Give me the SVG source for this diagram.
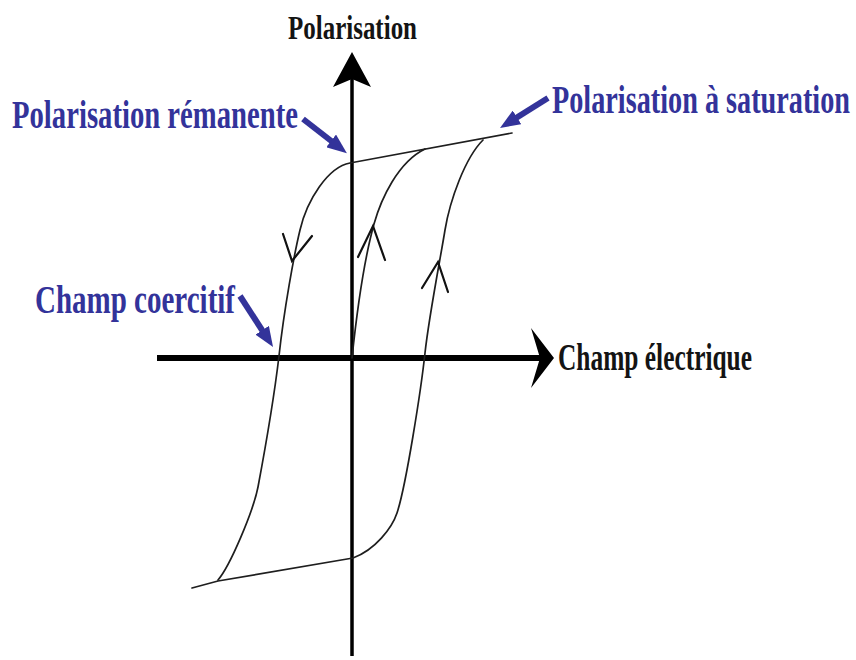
<svg xmlns="http://www.w3.org/2000/svg" width="856" height="660" viewBox="0 0 856 660">
<style>
.lbl{font-family:"Liberation Serif","Times New Roman",serif;font-weight:bold;}
.blue{fill:#33339a;}
.dark{fill:#141414;}
.curve{fill:none;stroke:#1e1e1e;stroke-width:1.7;stroke-linejoin:round;stroke-linecap:round;}
.chev{fill:none;stroke:#111;stroke-width:2.2;stroke-linecap:round;stroke-linejoin:miter;}
.ptr{fill:none;stroke:#33339a;stroke-width:6;}
</style>
<defs>
<marker id="bhead" viewBox="0 0 20 16" refX="10" refY="8" markerWidth="20" markerHeight="16" markerUnits="userSpaceOnUse" orient="auto">
<path d="M0,0 L20,8 L0,16 Z" fill="#33339a"/>
</marker>
</defs>
<rect width="856" height="660" fill="#ffffff"/>

<g id="axes">
<line x1="352" y1="78" x2="352" y2="656" stroke="#000" stroke-width="3.5"/>
<path d="M352,52 L371,87 L352,79 L333,87 Z" fill="#000"/>
<line x1="157" y1="358" x2="541" y2="358" stroke="#000" stroke-width="6"/>
<path d="M554,358 L531,328 L540,358 L531,388 Z" fill="#000"/>
</g>

<g id="hysteresis">
<path class="curve" d="M512,133 L350,163 C328,167 307,200 300,230 C294,255 284,310 279,356 C274,398 264,455 258,487 C253,512 230,566 218,580"/>
<path class="curve" d="M192,588 L218,581 L353,558 C375,550 392,528 397,513 C406,486 421,390 425,353 C429,316 441,255 445,230 C450,200 465,158 483,140"/>
<path class="curve" d="M352,358 C356,320 364,260 374,224 C381,199 398,162 425,149"/>
<path class="chev" d="M283,234 L292,261 L312,236"/>
<path class="chev" d="M358,257 L373,226 L385,260"/>
<path class="chev" d="M422,288 L438,262 L448,292"/>
</g>

<g id="connectors">
<line class="ptr" x1="303" y1="119" x2="339" y2="147" marker-end="url(#bhead)"/>
<line class="ptr" x1="548" y1="98" x2="508.5" y2="122.7" marker-end="url(#bhead)"/>
<line class="ptr" x1="240" y1="296" x2="267.6" y2="338.6" marker-end="url(#bhead)"/>
</g>

<g id="label-polarisation"><text class="lbl dark" x="288" y="39" font-size="33" textLength="129" lengthAdjust="spacingAndGlyphs">Polarisation</text></g>
<g id="label-remanente"><text class="lbl blue" x="12" y="128" font-size="40" textLength="286" lengthAdjust="spacingAndGlyphs">Polarisation rémanente</text></g>
<g id="label-saturation"><text class="lbl blue" transform="translate(552,113) scale(1,1.43)" x="0" y="0" font-size="28" textLength="298" lengthAdjust="spacingAndGlyphs">Polarisation à saturation</text></g>
<g id="label-coercitif"><text class="lbl blue" x="35" y="313" font-size="40" textLength="200" lengthAdjust="spacingAndGlyphs">Champ coercitif</text></g>
<g id="label-champ"><text class="lbl dark" x="558" y="370" font-size="38" textLength="194" lengthAdjust="spacingAndGlyphs">Champ électrique</text></g>
</svg>
